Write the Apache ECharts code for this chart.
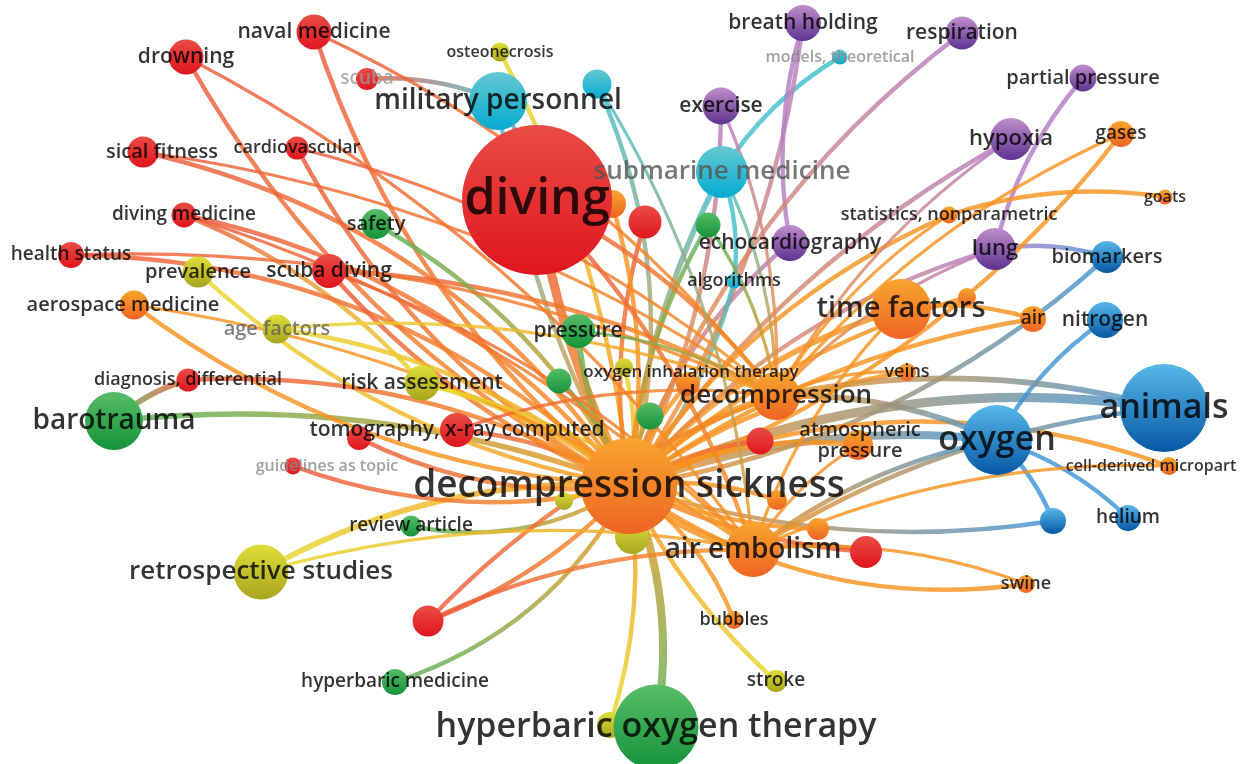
<!DOCTYPE html>
<html>
<head>
<meta charset="utf-8">
<title>Keyword co-occurrence map</title>
<script src="https://cdn.jsdelivr.net/npm/echarts@6/dist/echarts.min.js"></script>
<style>
  html, body { margin: 0; padding: 0; background: #fff; }
  #chart { width: 1244px; height: 764px; }
</style>
</head>
<body>
<div id="chart"></div>
<script>
// keyword map (map coords, node diameter, cluster)
const keywords = [
  'decompression sickness', 'diving', 'hyperbaric oxygen therapy', 'animals', 'oxygen',
  'barotrauma', 'retrospective studies', 'military personnel', 'submarine medicine', 'time factors',
  'decompression', 'air embolism', 'atmospheric\npressure', 'lung', 'hypoxia',
  'exercise', 'breath holding', 'respiration', 'partial pressure', 'models, theoretical',
  'osteonecrosis', 'scuba', 'naval medicine', 'drowning', 'sical fitness',
  'cardiovascular', 'diving medicine', 'health status', 'prevalence', 'scuba diving',
  'safety', 'aerospace medicine', 'age factors', 'diagnosis, differential', 'risk assessment',
  'tomography, x-ray computed', '', 'guidelines as topic', 'review article', 'pressure',
  'oxygen inhalation therapy', '', '', '', '',
  '', '', '', 'echocardiography', 'algorithms',
  'statistics, nonparametric', 'goats', 'gases', 'biomarkers', 'nitrogen',
  'air', '', 'veins', 'cell-derived micropart', 'helium',
  '', '', '', 'swine', 'bubbles',
  'stroke', 'hyperbaric medicine', '', '', '',
  '', '', ''
];
const mapX = [
  629, 537, 656, 1164, 997,
  114, 261, 498, 722, 901,
  776, 753, 858, 995, 1011,
  721, 803, 962, 1083, 840,
  500, 367, 314, 186, 143,
  297, 184, 71, 198, 329,
  376, 134, 277, 188, 422,
  457, 359, 293, 411, 578,
  688, 624, 559, 650, 708,
  645, 612, 597, 790, 734,
  949, 1165, 1121, 1107, 1105,
  1033, 967, 907, 1169, 1128,
  1053, 866, 818, 1026, 734,
  776, 395, 428, 632, 564,
  610, 760, 777
];
const mapY = [
  486, 200, 727, 408, 440,
  421, 572, 101, 172, 309,
  396, 550, 445, 249, 139,
  106, 23, 33, 78, 57,
  52, 79, 32, 57, 152,
  148, 215, 255, 272, 271,
  224, 305, 329, 380, 383,
  430, 438, 466, 526, 331,
  384, 367, 381, 416, 225,
  222, 204, 84, 243, 281,
  215, 197, 134, 257, 320,
  319, 297, 372, 466, 518,
  521, 552, 529, 584, 620,
  681, 682, 621, 537, 501,
  725, 441, 500
];
const nodeSize = [
  96, 150, 85, 88, 70,
  58, 55, 58, 52, 60,
  48, 54, 30, 42, 42,
  37, 36, 33, 27, 15,
  19, 22, 35, 35, 31,
  23, 25, 26, 31, 34,
  30, 29, 29, 23, 35,
  34, 24, 17, 21, 34,
  24, 18, 25, 27, 25,
  33, 28, 29, 36, 15,
  17, 15, 26, 32, 36,
  26, 18, 18, 18, 26,
  26, 32, 22, 18, 18,
  22, 26, 31, 34, 18,
  26, 27, 20
];
const clusters = [
  'orange', 'red', 'green', 'blue', 'blue',
  'green', 'yellow', 'cyan', 'cyan', 'orange',
  'orange', 'orange', 'orange', 'purple', 'purple',
  'purple', 'purple', 'purple', 'purple', 'cyan',
  'yellow', 'red', 'red', 'red', 'red',
  'red', 'red', 'red', 'yellow', 'red',
  'green', 'orange', 'yellow', 'red', 'yellow',
  'red', 'red', 'red', 'green', 'green',
  'orange', 'yellow', 'green', 'green', 'green',
  'red', 'orange', 'cyan', 'purple', 'cyan',
  'orange', 'orange', 'orange', 'blue', 'blue',
  'orange', 'orange', 'orange', 'orange', 'blue',
  'blue', 'red', 'orange', 'orange', 'orange',
  'yellow', 'green', 'red', 'yellow', 'yellow',
  'yellow', 'red', 'orange'
];

// co-occurrence links (node index pairs, link strength)
const linkFrom = [
  1, 2, 70, 3, 4, 5, 5, 6, 7, 7, 8, 19, 9, 10, 11, 12, 13, 18, 53, 53,
  14, 15, 16, 16, 17, 20, 21, 22, 23, 24, 25, 26, 26, 27, 28, 29, 29, 30, 31, 32,
  34, 35, 36, 37, 38, 39, 40, 41, 42, 43, 44, 45, 46, 47, 48, 49, 8, 50, 51, 52,
  54, 55, 55, 56, 57, 58, 59, 60, 60, 61, 61, 62, 63, 64, 65, 66, 67, 67, 67, 68,
  69, 71, 72, 3, 4, 33, 22, 24, 25, 27, 29, 31, 32, 52, 50, 57,
  13, 14, 9, 12, 3, 4, 58, 63, 8, 15, 1, 1, 35, 34, 26, 23, 39, 44, 47, 6
];
const linkTo = [
  0, 0, 0, 0, 0, 0, 33, 0, 0, 1, 0, 8, 0, 0, 0, 0, 0, 13, 13, 0,
  0, 0, 0, 48, 0, 0, 7, 0, 0, 0, 0, 0, 34, 0, 0, 0, 10, 0, 0, 0,
  0, 0, 0, 0, 0, 0, 0, 0, 0, 0, 0, 0, 0, 0, 0, 0, 49, 0, 50, 0,
  4, 9, 0, 0, 0, 0, 4, 0, 4, 11, 0, 0, 0, 0, 0, 0, 0, 11, 10, 0,
  0, 0, 0, 11, 11, 0, 10, 10, 10, 10, 11, 11, 10, 10, 10, 10,
  10, 10, 11, 11, 10, 10, 11, 11, 10, 10, 10, 11, 10, 11, 11, 11, 10, 10, 11, 11
];
const linkStrength = [
  6, 5, 2, 6, 5, 3, 3, 3, 2, 2, 3, 2, 3, 4, 4, 3, 2, 2, 2, 2,
  2, 2, 2, 2, 2, 2, 2, 2, 2, 2, 2, 2, 2, 2, 2, 2, 2, 2, 2, 2,
  3, 2, 2, 2, 2, 3, 2, 2, 2, 2, 2, 2, 2, 2, 2, 2, 2, 2, 2, 2,
  2, 2, 2, 2, 2, 2, 2, 2, 2, 2, 2, 2, 2, 2, 2, 2, 2, 2, 2, 2,
  2, 2, 2, 2, 2, 2, 1, 1, 1, 1, 1, 1, 1, 1, 1, 1,
  1, 1, 1, 1, 3, 3, 1, 1, 1, 1, 2, 2, 1, 1, 1, 1, 1, 1, 1, 1
];

const clusterColors = {
  red:    { top: '#ea4c45', bottom: '#df161f', edge: '#ec5a3c' },
  orange: { top: '#f8a52e', bottom: '#ee6423', edge: '#f7931f' },
  yellow: { top: '#dede38', bottom: '#a8a520', edge: '#e8da2c' },
  green:  { top: '#58bc68', bottom: '#15933a', edge: '#52b45c' },
  cyan:   { top: '#66c8d2', bottom: '#05abd0', edge: '#42bfcd' },
  purple: { top: '#bf8ecb', bottom: '#5d3391', edge: '#b47cc6' },
  blue:   { top: '#58b8e8', bottom: '#0558a5', edge: '#4094d6' }
};

// which side each DCS link bows to (u/d/l/r) and how much
const bendOf = {
  1: ['l', 0.08], 2: ['r', 0.15], 3: ['u', 0.15], 4: ['u', 0.12], 5: ['u', 0.12],
  6: ['u', 0.15], 7: ['l', 0.1], 8: ['l', 0.1], 9: ['u', 0.15], 10: ['u', 0.15],
  11: ['d', 0.15], 12: ['u', 0.15], 13: ['u', 0.15], 14: ['u', 0.12], 15: ['r', 0.12],
  16: ['r', 0.12], 17: ['u', 0.15], 20: ['r', 0.1], 22: ['l', 0.15], 23: ['l', 0.15],
  24: ['u', 0.2], 25: ['l', 0.15], 26: ['u', 0.18], 27: ['u', 0.2], 28: ['d', 0.15],
  29: ['l', 0.12], 30: ['u', 0.15], 31: ['d', 0.15], 32: ['u', 0.15], 33: ['u', 0.15],
  34: ['u', 0.12], 35: ['u', 0.12], 36: ['d', 0.15], 37: ['d', 0.15], 38: ['d', 0.2],
  39: ['l', 0.12], 47: ['r', 0.18], 48: ['u', 0.15], 49: ['r', 0.12], 50: ['u', 0.15],
  52: ['r', 0.15], 53: ['r', 0.15], 54: ['r', 0.12], 55: ['u', 0.12], 56: ['u', 0.12],
  57: ['u', 0.12], 58: ['u', 0.2], 60: ['d', 0.12], 61: ['d', 0.1], 62: ['d', 0.1],
  63: ['d', 0.2], 64: ['r', 0.15], 65: ['l', 0.1], 66: ['d', 0.2], 67: ['d', 0.12],
  70: ['r', 0.12]
};

// label tweaks
const labelOffset = {
  24: [19, 0], 31: [-11, 0], 37: [34, 0], 58: [-18, 0], 12: [2, -4], 40: [3, -12]
};
const labelFont = {
  0: 37, 1: 50, 2: 34, 3: 34, 4: 34, 5: 28, 6: 26, 7: 28, 8: 26, 9: 29, 10: 26, 11: 28,
  12: 20, 25: 18, 33: 18, 49: 18, 51: 16, 19: 16, 20: 16, 58: 16, 40: 17, 37: 16
};
const greyLabel = { 21: '#9a9a9a', 19: '#8a8a8a', 37: '#8a8a8a', 32: '#5e5e5e', 8: '#555' };

function fontFor(i) {
  if (labelFont[i]) return labelFont[i];
  const d = nodeSize[i];
  return Math.round(d <= 40 ? 15 + 0.17 * d : 21.8 + 0.27 * (d - 40));
}

function bend(p1, p2, dir, mag) {
  const dx = p2[0] - p1[0], dy = p2[1] - p1[1];
  const want = { u: [0, -1], d: [0, 1], l: [-1, 0], r: [1, 0] }[dir];
  const s = dy * want[0] - dx * want[1];
  return s >= 0 ? mag : -mag;
}

const order = nodeSize.map((d, i) => i).sort((a, b) => nodeSize[a] - nodeSize[b]);

const nodeData = order.map(i => {
  const c = clusterColors[clusters[i]];
  return {
    value: [mapX[i], mapY[i]],
    symbolSize: nodeSize[i],
    itemStyle: {
      opacity: 1,
      color: {
        type: 'linear', x: 0, y: 0, x2: 0, y2: 1,
        colorStops: [{ offset: 0, color: c.top }, { offset: 1, color: c.bottom }]
      }
    }
  };
});

const labelData = order.filter(i => keywords[i] !== '').map(i => ({
  value: [mapX[i], mapY[i]],
  label: {
    formatter: keywords[i],
    fontSize: fontFor(i),
    lineHeight: Math.round(fontFor(i) * 1.05),
    color: greyLabel[i] || '#000',
    offset: labelOffset[i] || [0, 0]
  }
}));

const edgeData = linkFrom.map((s, k) => {
  const t = linkTo[k];
  const p1 = [mapX[s], mapY[s]], p2 = [mapX[t], mapY[t]];
  const b = bendOf[s] && t === 0 ? bendOf[s] : ['u', 0.12];
  return {
    coords: [p1, p2],
    lineStyle: {
      width: 2 + 1.2 * linkStrength[k],
      curveness: bend(p1, p2, b[0], b[1]),
      color: {
        type: 'linear', global: true,
        x: p1[0], y: p1[1], x2: p2[0], y2: p2[1],
        colorStops: [
          { offset: 0, color: clusterColors[clusters[s]].edge },
          { offset: 1, color: clusterColors[clusters[t]].edge }
        ]
      }
    }
  };
});

const chart = echarts.init(document.getElementById('chart'), null, { renderer: 'canvas' });
chart.setOption({
  backgroundColor: '#ffffff',
  animation: false,
  grid: { left: 0, right: 0, top: 0, bottom: 0 },
  xAxis: { type: 'value', min: 0, max: 1244, show: false },
  yAxis: { type: 'value', min: 0, max: 764, inverse: true, show: false },
  series: [
    {
      type: 'lines',
      coordinateSystem: 'cartesian2d',
      z: 1,
      silent: true,
      lineStyle: { opacity: 0.82 },
      data: edgeData
    },
    {
      type: 'scatter',
      z: 2,
      silent: true,
      symbol: 'circle',
      itemStyle: { opacity: 1 },
      data: nodeData
    },
    {
      type: 'scatter',
      z: 3,
      silent: true,
      symbolSize: 1,
      itemStyle: { color: 'rgba(0,0,0,0)' },
      label: {
        show: true,
        position: 'inside',
        fontFamily: '"Open Sans", "DejaVu Sans", sans-serif',
        fontWeight: 600,
        align: 'center',
        verticalAlign: 'middle'
      },
      data: labelData
    }
  ]
});
</script>
</body>
</html>
